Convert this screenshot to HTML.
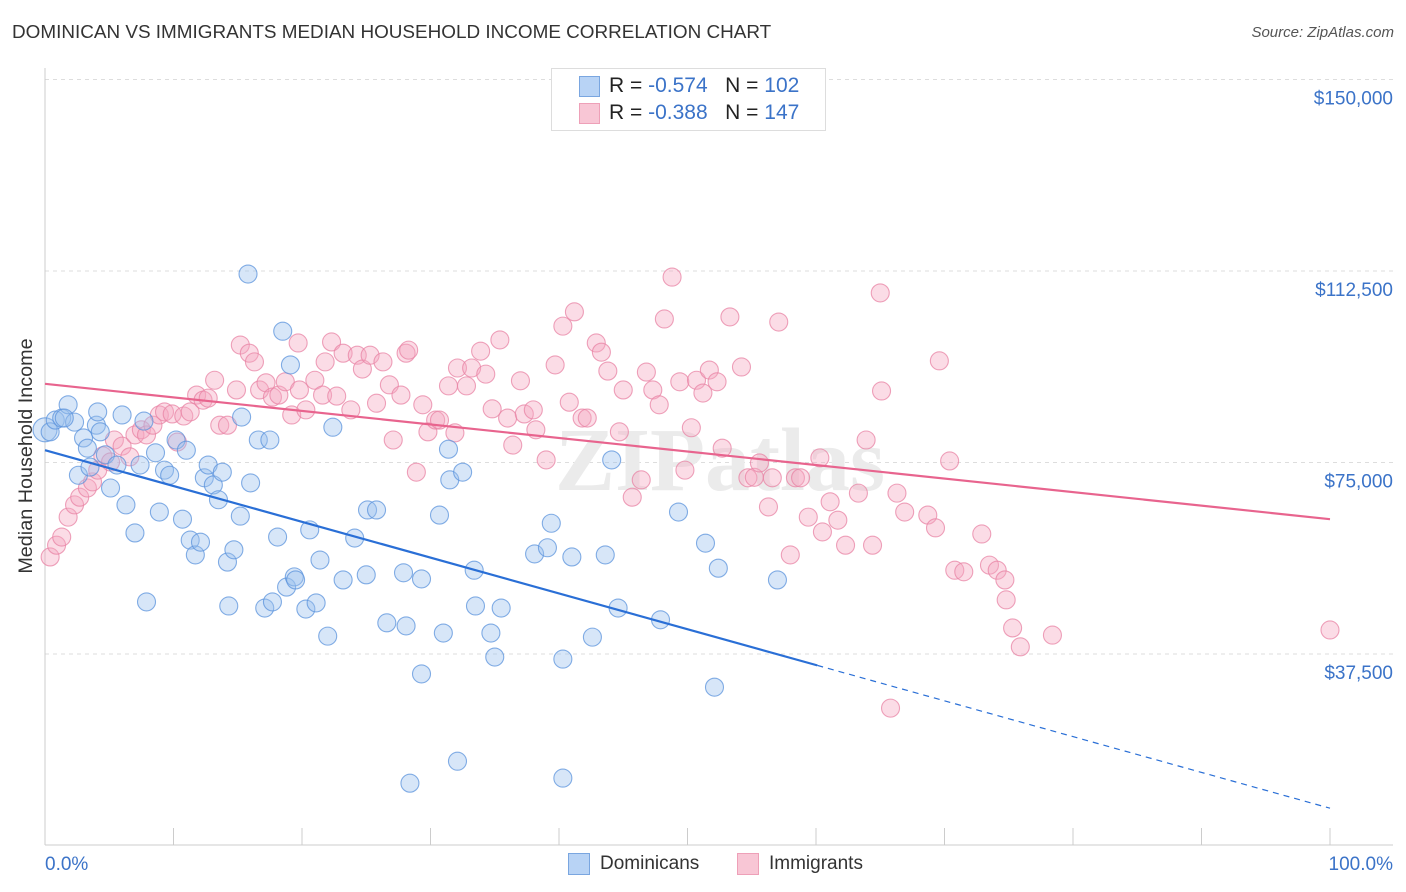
<!DOCTYPE html>
<html><head><meta charset="utf-8"><style>
body{margin:0;background:#fff;font-family:"Liberation Sans",sans-serif;}
#wrap{position:relative;width:1406px;height:892px;overflow:hidden;}
.t{position:absolute;white-space:nowrap;}
</style></head><body>
<div id="wrap">
<div class="t" style="left:12px;top:22px;font-size:18.9px;color:#333;">DOMINICAN VS IMMIGRANTS MEDIAN HOUSEHOLD INCOME CORRELATION CHART</div>
<div class="t" style="right:12px;top:24px;font-size:15px;color:#555;font-style:italic;">Source: ZipAtlas.com</div>
<div class="t" style="left:-103px;top:444px;font-size:19.8px;color:#333;transform:rotate(-90deg);transform-origin:center;width:260px;height:24px;text-align:center;">Median Household Income</div>
<svg id="plot" width="1406" height="892" style="position:absolute;left:0;top:0"></svg>
<div style="position:absolute;left:551px;top:68px;width:273px;height:61px;border:1px solid #ddd;background:#fff;">
<div style="position:absolute;left:27px;top:7px;width:19px;height:19px;background:#b8d3f5;border:1px solid #7aa6e0;"></div>
<div class="t" style="left:57px;top:5px;font-size:21px;color:#222;">R = <span style="color:#3b73c8">-0.574</span>&nbsp;&nbsp;&nbsp;N = <span style="color:#3b73c8">102</span></div>
<div style="position:absolute;left:27px;top:34px;width:19px;height:19px;background:#f8c6d5;border:1px solid #eea0b8;"></div>
<div class="t" style="left:57px;top:32px;font-size:21px;color:#222;">R = <span style="color:#3b73c8">-0.388</span>&nbsp;&nbsp;&nbsp;N = <span style="color:#3b73c8">147</span></div>
</div>
<div style="position:absolute;left:568px;top:853px;width:20px;height:20px;background:#b8d3f5;border:1px solid #7aa6e0;"></div>
<div class="t" style="left:600px;top:853px;font-size:19px;color:#333;">Dominicans</div>
<div style="position:absolute;left:737px;top:853px;width:20px;height:20px;background:#f8c6d5;border:1px solid #eea0b8;"></div>
<div class="t" style="left:769px;top:853px;font-size:19px;color:#333;">Immigrants</div>
</div>
<script>
const yTicks=[37500,75000,112500,150000];
const yTickLabels=["$37,500","$75,000","$112,500","$150,000"];
const xTickLabels=["0.0%","100.0%"];
const domX=[0.0,0.4,0.8,1.3,1.8,2.3,3.0,3.3,4.0,4.3,2.6,3.5,4.7,5.1,5.6,6.0,6.3,7.0,7.4,7.7,7.9,8.6,8.9,9.3,9.7,10.2,10.7,11.0,11.3,11.7,12.1,12.4,12.7,13.1,13.5,13.8,14.2,14.3,14.7,15.2,15.3,15.8,16.0,16.6,17.1,17.5,17.7,18.1,18.5,18.8,19.1,19.4,19.5,20.3,20.6,21.1,21.4,22.0,22.4,23.2,24.1,25.0,25.1,25.8,26.6,27.9,28.1,29.3,29.3,30.7,31.0,31.4,31.5,32.1,32.5,33.4,33.5,34.7,35.0,35.5,38.1,39.1,39.4,40.3,40.3,41.0,42.6,43.6,44.1,44.6,47.9,49.3,51.4,52.1,52.4,57.0,28.4,4.1,1.5];
const domY=[81.4,81.0,83.3,83.7,86.3,82.9,79.8,77.8,82.3,81.0,72.5,74.1,76.5,70.0,74.5,84.3,66.7,61.2,74.5,83.1,47.7,76.9,65.3,73.5,72.5,79.4,63.9,77.4,59.8,56.9,59.4,72.0,74.5,70.6,67.7,73.1,55.5,46.9,57.9,64.5,83.9,111.9,71.0,79.4,46.5,79.4,47.7,60.4,100.7,50.6,94.1,52.6,52.0,46.3,61.8,47.5,55.9,41.0,81.9,52.0,60.2,53.0,65.7,65.7,43.6,53.4,43.0,52.2,33.6,64.7,41.6,77.6,71.6,16.5,73.1,53.9,46.9,41.6,36.9,46.5,57.1,58.3,63.1,36.5,13.2,56.5,40.8,56.9,75.5,46.5,44.2,65.3,59.2,31.0,54.3,52.0,12.2,84.9,83.7];
const immX=[0.4,0.9,1.3,1.8,2.3,2.7,3.3,3.7,4.1,4.5,5.1,5.4,6.0,6.6,7.0,7.5,7.9,8.4,8.9,9.3,9.9,10.3,10.8,11.3,11.8,12.3,12.7,13.2,13.6,14.2,14.9,15.2,15.9,16.3,16.7,17.2,17.7,18.2,18.7,19.2,19.7,19.8,20.3,21.0,21.6,21.8,22.3,22.7,23.2,23.8,24.3,24.7,25.3,25.8,26.3,26.8,27.1,27.7,28.1,28.3,28.9,29.4,29.8,30.4,30.7,31.4,31.9,32.1,32.8,33.2,33.9,34.3,34.8,35.4,36.0,36.4,37.0,37.3,38.0,38.2,39.0,39.7,40.3,40.8,41.2,41.8,42.2,42.9,43.3,43.8,44.7,45.0,45.7,46.4,46.8,47.3,47.8,48.2,48.8,49.8,49.4,50.3,50.7,51.2,51.7,52.3,52.7,53.3,54.2,54.7,55.2,55.6,56.3,56.6,57.1,58.0,58.4,58.8,59.4,60.3,60.5,61.1,61.7,62.3,63.3,63.9,64.4,65.0,65.1,66.3,66.9,68.7,69.3,69.6,70.4,70.8,71.5,72.9,73.5,74.1,74.7,74.8,75.3,75.9,78.4,65.8,100];
const immY=[56.5,58.8,60.4,64.3,66.7,68.2,70.0,71.2,73.5,76.3,75.1,79.4,78.2,76.1,80.4,81.4,80.4,82.3,84.3,84.9,84.5,79.0,84.1,84.9,88.2,87.2,87.6,91.1,82.3,82.3,89.2,98.0,96.4,94.7,89.2,90.6,87.8,88.2,90.8,84.3,98.4,89.2,85.3,91.1,88.2,94.7,98.6,88.0,96.4,85.3,96.0,93.3,96.0,86.6,94.7,90.2,79.4,88.2,96.4,97.0,73.1,86.3,81.0,83.3,83.3,90.0,80.8,93.5,90.0,93.5,96.8,92.3,85.5,99.0,83.7,78.4,91.0,84.5,85.3,81.4,75.5,94.1,101.7,86.8,104.5,83.7,83.7,98.4,96.6,92.9,81.0,89.2,68.2,71.6,92.7,89.2,86.3,103.1,111.3,73.5,90.8,81.8,91.1,88.6,93.1,90.8,77.8,103.5,93.7,72.0,72.1,74.9,66.3,72.0,102.5,56.9,72.0,72.0,64.3,75.9,61.4,67.3,63.7,58.8,69.0,79.4,58.8,108.2,89.0,69.0,65.3,64.7,62.2,94.9,75.3,53.9,53.6,61.0,54.9,53.9,52.0,48.1,42.6,38.9,41.2,26.9,42.2];
const domTrend=[77.4,7.3]; // value (thousands) at 0% and 100%
const immTrend=[90.4,63.9];
const domSolidEnd=60.1;

const NS="http://www.w3.org/2000/svg";
const svg=document.getElementById('plot');
const X0=45,X1=1330,Y0=845.5,PXK=5.107;
const sx=p=>X0+(X1-X0)*p/100;
const sy=k=>Y0-k*PXK;
function mk(tag,attrs){const e=document.createElementNS(NS,tag);for(const k in attrs)e.setAttribute(k,attrs[k]);svg.appendChild(e);return e;}
yTicks.forEach((v,i)=>{
  const g=mk('line',{x1:45,x2:1393,y1:sy(v/1000),y2:sy(v/1000),stroke:'#ddd','stroke-dasharray':'4,4'});
  
  
  const t=mk('text',{x:1393,y:sy(v/1000)+25,'text-anchor':'end','font-size':'19',fill:'#3b73c8','font-family':'Liberation Sans, sans-serif'});
  t.textContent=yTickLabels[i];
  
  
});
const ax=mk('line',{x1:45,x2:45,y1:68,y2:845,stroke:'#ccc'});


const bx=mk('line',{x1:45,x2:1393,y1:845,y2:845,stroke:'#ccc'});


for(let i=0;i<=10;i++){
  const tk=mk('line',{x1:sx(i*10),x2:sx(i*10),y1:828,y2:845,stroke:'#ccc'});
  
  
}
[[0,'start',45],[100,'end',1393]].forEach((d,i)=>{
  const t=mk('text',{x:d[2],y:870,'text-anchor':d[1],'font-size':'19',fill:'#3b73c8','font-family':'Liberation Sans, sans-serif'});
  t.textContent=xTickLabels[i];
  
  
});
const wm=mk('text',{x:720,y:490,'text-anchor':'middle','font-size':'90',fill:'#ebebeb','font-family':'Liberation Serif, serif','font-weight':'bold'});
wm.textContent='ZIPatlas';


function dots(xs,ys,fill,stroke,name){
  xs.forEach((x,i)=>{
    const c=mk('circle',{cx:sx(x),cy:sy(ys[i]),r:i===0&&name==='dominican-point'?12:9,fill:fill,'fill-opacity':0.4,stroke:stroke,'stroke-opacity':0.75,'stroke-width':1.1});
    
    
  });
}
dots(immX,immY,'#f4a8c0','#e883a4','immigrant-point');
dots(domX,domY,'#9cc0ee','#5b93dc','dominican-point');
const at=(t,p)=>t[0]+(t[1]-t[0])*p/100;
const l1=mk('line',{x1:sx(0),y1:sy(at(immTrend,0)),x2:sx(100),y2:sy(at(immTrend,100)),stroke:'#e8648e','stroke-width':2.2});


const l2=mk('line',{x1:sx(0),y1:sy(at(domTrend,0)),x2:sx(domSolidEnd),y2:sy(at(domTrend,domSolidEnd)),stroke:'#2a6fd6','stroke-width':2.2});


const l3=mk('line',{x1:sx(domSolidEnd),y1:sy(at(domTrend,domSolidEnd)),x2:sx(100),y2:sy(at(domTrend,100)),stroke:'#2a6fd6','stroke-width':1.2,'stroke-dasharray':'6,5'});


</script>
</body></html>
